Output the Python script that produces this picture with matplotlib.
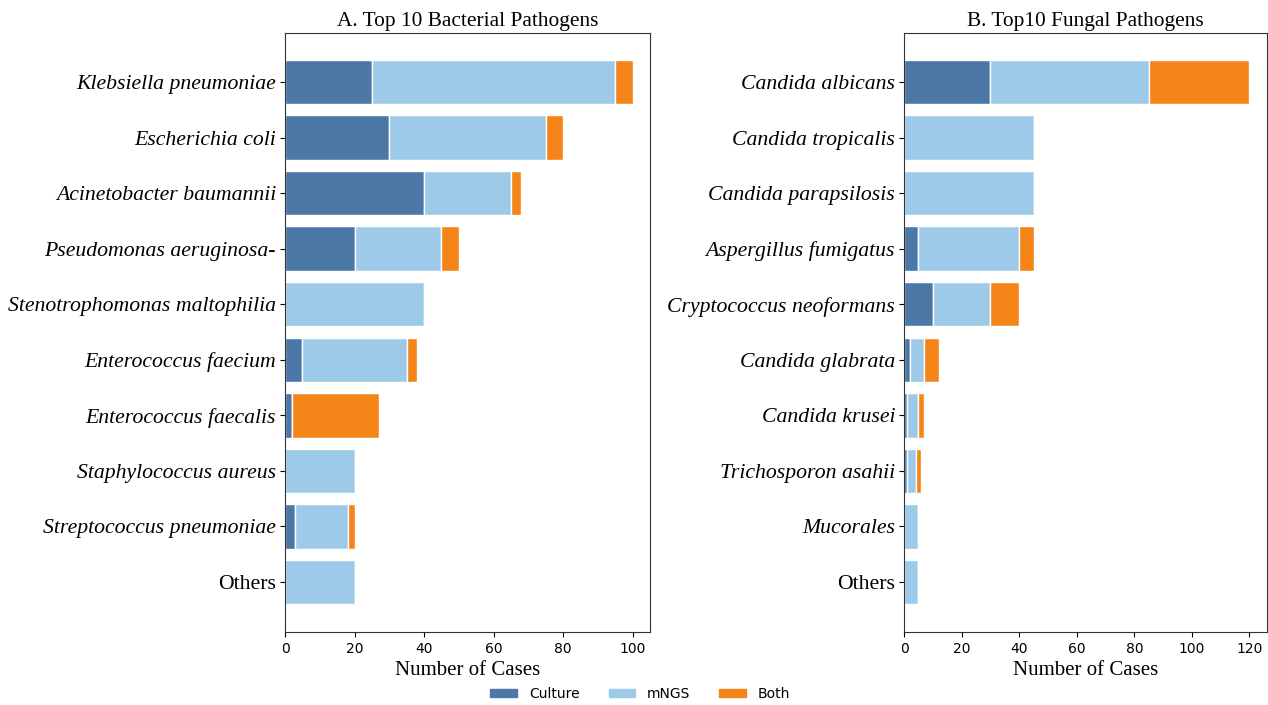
import matplotlib
matplotlib.use("Agg")
import matplotlib.pyplot as plt
import numpy as np
from matplotlib.patches import Patch

bact_names = ["Klebsiella pneumoniae", "Escherichia coli", "Acinetobacter baumannii",
              "Pseudomonas aeruginosa-", "Stenotrophomonas maltophilia", "Enterococcus faecium",
              "Enterococcus faecalis", "Staphylococcus aureus", "Streptococcus pneumoniae", "Others"]
bact_culture = [25, 30, 40, 20, 0, 5, 2, 0, 3, 0]
bact_mngs = [70, 45, 25, 25, 40, 30, 0, 20, 15, 20]
bact_both = [5, 5, 3, 5, 0, 3, 25, 0, 2, 0]

fung_names = ["Candida albicans", "Candida tropicalis", "Candida parapsilosis",
              "Aspergillus fumigatus", "Cryptococcus neoformans", "Candida glabrata",
              "Candida krusei", "Trichosporon asahii", "Mucorales", "Others"]
fung_culture = [30, 0, 0, 5, 10, 2, 1, 1, 0, 0]
fung_mngs = [55, 45, 45, 35, 20, 5, 4, 3, 5, 5]
fung_both = [35, 0, 0, 5, 10, 5, 2, 2, 0, 0]

C_CULT = "#4c78a8"
C_MNGS = "#9ecae9"
C_BOTH = "#f58518"

fig = plt.figure(figsize=(12.68, 7.05), dpi=100)
ax1 = fig.add_axes([0.2248, 0.1035, 0.2878, 0.8495])
ax2 = fig.add_axes([0.7130, 0.1035, 0.2860, 0.8495])

def draw(ax, names, cult, mngs, both, title, xmax, ticks):
    y = np.arange(len(names))
    cult = np.array(cult); mngs = np.array(mngs); both = np.array(both)
    kw = dict(height=0.8, edgecolor="white", linewidth=1)
    ax.barh(y, cult, color=C_CULT, **kw)
    ax.barh(y, mngs, left=cult, color=C_MNGS, **kw)
    ax.barh(y, both, left=cult + mngs, color=C_BOTH, **kw)
    ax.set_yticks(y)
    labels = ax.set_yticklabels(names, fontfamily="Liberation Serif", fontsize=15.7)
    for lab, n in zip(labels, names):
        lab.set_fontstyle("normal" if n == "Others" else "italic")
    ax.tick_params(axis="y", pad=3)
    ax.set_ylim(9.9, -0.88)
    ax.set_xlim(0, xmax)
    ax.set_xticks(ticks)
    ax.tick_params(axis="x", labelsize=10)
    ax.set_xlabel("Number of Cases", fontfamily="Liberation Serif", fontsize=15)
    ax.set_title(title, fontfamily="Liberation Serif", fontsize=15.4, pad=5)
    for s in ax.spines.values():
        s.set_color("#333333")
        s.set_linewidth(0.8)

draw(ax1, bact_names, bact_culture, bact_mngs, bact_both,
     "A. Top 10 Bacterial Pathogens", 105, [0, 20, 40, 60, 80, 100])
draw(ax2, fung_names, fung_culture, fung_mngs, fung_both,
     "B. Top10 Fungal Pathogens", 126, [0, 20, 40, 60, 80, 100, 120])

handles = [Patch(color=C_CULT, label="Culture"), Patch(color=C_MNGS, label="mNGS"),
           Patch(color=C_BOTH, label="Both")]
fig.legend(handles=handles, loc="center", bbox_to_anchor=(0.505, 0.0156), ncol=3,
           frameon=False, fontsize=10, handlelength=1.9, handleheight=0.58,
           handletextpad=0.86, columnspacing=2.1)

fig.savefig("out.png", dpi=100)
